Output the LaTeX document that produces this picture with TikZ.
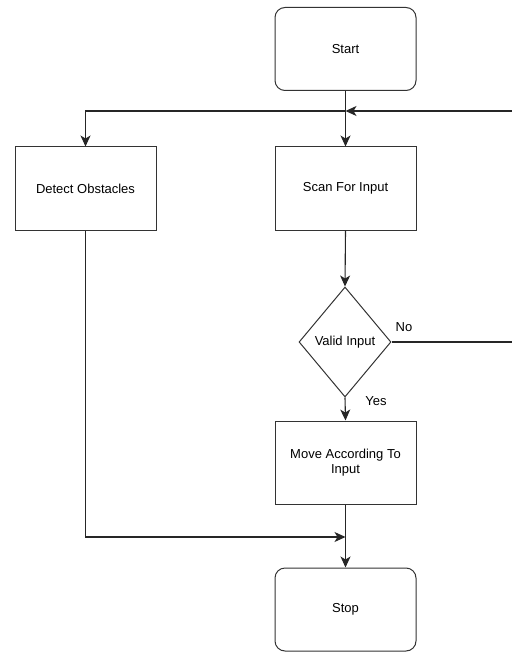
\documentclass[tikz,border=0pt]{standalone}
\usepackage{fontspec}
\setmainfont{Liberation Sans}
\usetikzlibrary{shapes.geometric,arrows.meta}
\begin{document}
\begin{tikzpicture}[x=1pt,y=-1pt,
  box/.style={draw=black!80, line width=1pt, minimum width=141pt, minimum height=83pt, inner sep=2pt, align=center, font=\fontsize{13}{15.5}\selectfont},
  term/.style={box, rounded corners=10pt},
  dec/.style={draw=black!80, line width=1pt, diamond, minimum width=92pt, minimum height=110pt, inner sep=0pt, font=\fontsize{13}{15.5}\selectfont},
  conn/.style={draw=black!85, line width=1.1pt},
  arr/.style={conn, -{Stealth[length=11pt,width=10pt,inset=3pt]}},
  lbl/.style={font=\fontsize{13}{15.5}\selectfont, inner sep=0pt}]
\useasboundingbox (0,0) rectangle (511,652);
\node[term] (start) at (345.5,49) {Start};
\node[box] (scan) at (345.5,188.5) {Scan For Input};
\node[box] (detect) at (85.5,188.5) {Detect Obstacles};
\node[dec] (valid) at (345,342) {Valid Input};
\node[box] (move) at (345.5,462.5) {Move According To\\Input};
\node[term] (stop) at (345.5,609.5) {Stop};
\coordinate (j1) at (345.5,111);
\coordinate (j2) at (345.5,537);
\coordinate (r1) at (516,111);
\node[lbl] (no) at (404,327) {No};
\node[lbl] (yes) at (376,401) {Yes};
\draw[conn] (start.south) -- (j1);
\draw[arr] (j1) -- (scan.north);
\draw[arr] (valid.east) -| (r1) -- (j1);
\draw[arr] (j1) -| (detect.north);
\draw[arr] (scan.south) -- (valid.north);
\draw[arr] (valid.south) -- (move.north);
\draw[conn] (move.south) -- (j2);
\draw[arr] (detect.south) |- (j2);
\draw[arr] (j2) -- (stop.north);
\end{tikzpicture}
\end{document}
